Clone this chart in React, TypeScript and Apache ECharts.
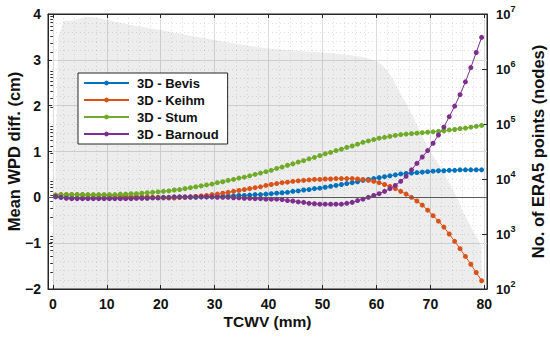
import React, { useEffect, useRef } from 'react';
import * as echarts from 'echarts';

// TCWV bin centres (mm)
const tcwvBins: number[] = Array.from({ length: 80 }, (_, i) => i + 0.5);

// Mean WPD differences (cm)
const bevis: number[] = [
  0.01, 0.00, 0.00, -0.01, -0.01, -0.01, -0.01, -0.01, -0.01, -0.01,
  -0.01, -0.01, -0.01, -0.01, -0.01, -0.01, -0.01, -0.01, -0.01, -0.01,
  -0.01, -0.01, -0.01, 0.00, 0.00, 0.00, 0.00, 0.01, 0.01, 0.01,
  0.02, 0.02, 0.03, 0.03, 0.04, 0.04, 0.05, 0.06, 0.06, 0.07,
  0.08, 0.09, 0.10, 0.11, 0.13, 0.14, 0.16, 0.17, 0.19, 0.20,
  0.22, 0.24, 0.26, 0.28, 0.30, 0.32, 0.34, 0.37, 0.39, 0.41,
  0.43, 0.45, 0.47, 0.49, 0.51, 0.52, 0.53, 0.54, 0.55, 0.56,
  0.57, 0.58, 0.58, 0.59, 0.59, 0.60, 0.60, 0.60, 0.60, 0.60,
];
const keihm: number[] = [
  0.05, 0.06, 0.06, 0.06, 0.06, 0.06, 0.05, 0.05, 0.05, 0.05,
  0.04, 0.04, 0.03, 0.03, 0.02, 0.02, 0.01, 0.01, 0.00, 0.00,
  -0.01, -0.01, -0.01, 0.00, 0.00, 0.01, 0.02, 0.03, 0.04, 0.06,
  0.07, 0.09, 0.11, 0.13, 0.15, 0.17, 0.19, 0.21, 0.23, 0.26,
  0.28, 0.30, 0.32, 0.33, 0.35, 0.36, 0.37, 0.38, 0.39, 0.39,
  0.40, 0.40, 0.41, 0.41, 0.41, 0.41, 0.40, 0.39, 0.37, 0.35,
  0.32, 0.28, 0.24, 0.19, 0.13, 0.07, 0.00, -0.08, -0.17, -0.28,
  -0.40, -0.52, -0.65, -0.80, -0.96, -1.12, -1.29, -1.46, -1.64, -1.82,
];
const stum: number[] = [
  0.05, 0.06, 0.06, 0.06, 0.06, 0.06, 0.06, 0.06, 0.06, 0.06,
  0.06, 0.06, 0.07, 0.07, 0.08, 0.08, 0.09, 0.10, 0.11, 0.12,
  0.13, 0.14, 0.16, 0.17, 0.19, 0.21, 0.23, 0.25, 0.27, 0.29,
  0.32, 0.34, 0.37, 0.39, 0.42, 0.44, 0.47, 0.50, 0.53, 0.56,
  0.59, 0.63, 0.66, 0.70, 0.73, 0.77, 0.80, 0.84, 0.87, 0.91,
  0.95, 0.98, 1.02, 1.05, 1.09, 1.12, 1.16, 1.20, 1.23, 1.26,
  1.29, 1.31, 1.33, 1.35, 1.37, 1.38, 1.39, 1.40, 1.41, 1.42,
  1.43, 1.44, 1.45, 1.47, 1.48, 1.50, 1.51, 1.53, 1.55, 1.57,
];
const barnoud: number[] = [
  0.02, 0.00, -0.02, -0.03, -0.03, -0.03, -0.03, -0.03, -0.03, -0.03,
  -0.03, -0.03, -0.03, -0.03, -0.03, -0.02, -0.02, -0.02, -0.01, -0.01,
  0.00, 0.00, 0.01, 0.01, 0.01, 0.01, 0.01, 0.01, 0.01, 0.01,
  0.00, 0.00, 0.00, -0.01, -0.01, -0.02, -0.02, -0.03, -0.03, -0.04,
  -0.04, -0.04, -0.05, -0.07, -0.08, -0.10, -0.11, -0.13, -0.14, -0.15,
  -0.15, -0.15, -0.15, -0.15, -0.13, -0.11, -0.07, -0.04, 0.00, 0.04,
  0.08, 0.13, 0.19, 0.26, 0.35, 0.46, 0.60, 0.74, 0.88, 1.02,
  1.18, 1.36, 1.53, 1.76, 1.99, 2.24, 2.52, 2.83, 3.16, 3.49,
];

// Number of ERA5 points (nodes) per TCWV
const era5Tcwv: number[] = [
  0, 1, 2, 3, 4, 5, 6, 7, 8, 10, 12, 15, 20, 25, 30, 35, 40, 45, 50, 55, 57, 58, 59,
  60, 61, 62, 63, 64, 65, 66, 67, 68, 69, 70, 71, 72, 73, 74, 75, 76, 77, 78, 79, 79.5, 79.6,
];
const era5Points: number[] = [
  100, 3.8e6, 7.6e6, 7.5e6, 7.8e6, 8.3e6, 8.8e6, 8.8e6, 8.6e6, 7.9e6, 7.1e6, 6.2e6, 5.1e6, 4.1e6, 3.35e6, 2.75e6, 2.37e6, 2.15e6, 2.0e6, 1.8e6, 1.68e6, 1.6e6, 1.5e6,
  1.38e6, 1.2e6, 9.4e5, 6.8e5, 4.3e5, 2.9e5, 1.96e5, 1.21e5, 7.8e4, 4.8e4, 3.2e4, 2.2e4, 1.6e4, 1.06e4, 6.8e3, 4.5e3, 2.6e3, 1.7e3, 1.1e3, 750, 585, 100,
];

const seriesNames = ['3D - Bevis', '3D - Keihm', '3D - Stum', '3D - Barnoud'];
const seriesColors = ['#0072BD', '#D95319', '#6FAA28', '#7E2F8E'];

const FONT = '"Liberation Sans", Arial, Helvetica, sans-serif';
const AXIS_COLOR = '#262626';
const TEXT_COLOR = '#111111';

export default function App() {
  const ref = useRef<HTMLDivElement>(null);

  useEffect(() => {
    if (!ref.current) return;
    const chart = echarts.init(ref.current, null, { renderer: 'svg' });

    const minorLogTicks: number[] = [];
    for (let d = 2; d < 7; d++) {
      for (let k = 2; k <= 9; k++) minorLogTicks.push(d + Math.log10(k));
    }

    const lineData = [bevis, keihm, stum, barnoud];
    const lineSeries: any[] = lineData.map((vals, si) => ({
      name: seriesNames[si],
      type: 'line',
      xAxisIndex: 0,
      yAxisIndex: 0,
      data: tcwvBins.map((x, i) => [x, vals[i]]),
      symbol: 'circle',
      symbolSize: 5,
      showSymbol: true,
      lineStyle: { width: 1, color: seriesColors[si] },
      itemStyle: { color: seriesColors[si] },
      emphasis: { disabled: true },
      z: 3,
      ...(si === 0
        ? {
            markLine: {
              silent: true,
              symbol: ['none', 'none'],
              label: { show: false },
              lineStyle: { color: '#5a5a5a', width: 1, type: 'solid' },
              data: [{ yAxis: 0 }],
            },
          }
        : {}),
    }));

    const option: any = {
      animation: false,
      backgroundColor: '#ffffff',
      textStyle: { fontFamily: FONT },
      grid: {
        left: 48,
        right: 63,
        top: 14,
        bottom: 48,
        containLabel: false,
        outerBoundsMode: 'none',
        show: true,
        borderColor: AXIS_COLOR,
        borderWidth: 1,
        backgroundColor: 'transparent',
      },
      legend: {
        data: seriesNames,
        orient: 'vertical',
        left: 78,
        top: 73,
        itemWidth: 45,
        itemHeight: 6,
        itemGap: 1,
        padding: [2, 9, 2, 5],
        borderColor: AXIS_COLOR,
        borderWidth: 1,
        backgroundColor: '#ffffff',
        textStyle: {
          fontFamily: FONT,
          fontWeight: 'bold',
          fontSize: 13,
          color: TEXT_COLOR,
          lineHeight: 16,
          padding: [0, 0, 0, 3],
        },
      },
      xAxis: [
        {
          type: 'value',
          position: 'bottom',
          min: -0.9,
          max: 80.5,
          splitNumber: 8,
          minInterval: 10,
          maxInterval: 10,
          name: 'TCWV (mm)',
          nameLocation: 'middle',
          nameGap: 24,
          nameMoveOverlap: false,
          nameTextStyle: { fontFamily: FONT, fontWeight: 'bold', fontSize: 15.5, color: TEXT_COLOR },
          axisLine: { show: true, onZero: false, lineStyle: { color: AXIS_COLOR, width: 1 } },
          axisTick: { show: true, inside: true, length: 4, lineStyle: { color: AXIS_COLOR } },
          axisLabel: {
            showMinLabel: false,
            showMaxLabel: false,
            margin: 8,
            fontFamily: FONT,
            fontWeight: 'bold',
            fontSize: 14,
            color: TEXT_COLOR,
            formatter: (v: number) => (Math.abs(v - Math.round(v / 10) * 10) < 1e-6 ? String(Math.round(v)) : ''),
          },
          splitLine: { show: true, lineStyle: { color: '#dcdcdc', width: 1 } },
          minorTick: { show: false, splitNumber: 5 },
          minorSplitLine: { show: true, lineStyle: { color: 'rgba(0,0,0,0.12)', width: 1, type: [1, 3] } },
        },
        {
          type: 'value',
          position: 'top',
          min: -0.9,
          max: 80.5,
          splitNumber: 8,
          minInterval: 10,
          maxInterval: 10,
          axisLine: { show: true, onZero: false, lineStyle: { color: AXIS_COLOR, width: 1 } },
          axisTick: { show: true, inside: true, length: 4, lineStyle: { color: AXIS_COLOR } },
          axisLabel: { show: false },
          splitLine: { show: false },
        },
      ],
      yAxis: [
        {
          type: 'value',
          position: 'left',
          min: -2,
          max: 4,
          interval: 1,
          name: 'Mean WPD diff. (cm)',
          nameLocation: 'middle',
          nameGap: 26,
          nameMoveOverlap: false,
          nameTextStyle: { fontFamily: FONT, fontWeight: 'bold', fontSize: 16.5, color: TEXT_COLOR },
          axisLine: { show: true, onZero: false, lineStyle: { color: AXIS_COLOR, width: 1 } },
          axisTick: { show: true, inside: true, length: 4, lineStyle: { color: AXIS_COLOR } },
          axisLabel: {
            margin: 7,
            fontFamily: FONT,
            fontWeight: 'bold',
            fontSize: 14,
            color: TEXT_COLOR,
            formatter: (v: number) => (v < 0 ? '\u2212' + Math.abs(v) : String(v)),
          },
          splitLine: { show: true, lineStyle: { color: '#dcdcdc', width: 1 } },
          minorTick: { show: false, splitNumber: 5 },
          minorSplitLine: { show: true, lineStyle: { color: 'rgba(0,0,0,0.12)', width: 1, type: [1, 3] } },
        },
        {
          type: 'log',
          logBase: 10,
          position: 'right',
          min: 100,
          max: 1e7,
          splitNumber: 5,
          name: 'No. of ERA5 points (nodes)',
          nameLocation: 'middle',
          nameGap: 42,
          nameMoveOverlap: false,
          nameRotate: 90,
          nameTextStyle: { fontFamily: FONT, fontWeight: 'bold', fontSize: 16.5, color: TEXT_COLOR },
          axisLine: { show: true, onZero: false, lineStyle: { color: AXIS_COLOR, width: 1 } },
          axisTick: { show: true, inside: true, length: 5, lineStyle: { color: AXIS_COLOR } },
          axisLabel: {
            margin: 9,
            formatter: (v: number) => '{b|10}{s|' + Math.round(Math.log10(v)) + '}',
            rich: {
              b: { fontFamily: FONT, fontWeight: 'bold', fontSize: 13, color: TEXT_COLOR },
              s: { fontFamily: FONT, fontWeight: 'bold', fontSize: 9, color: TEXT_COLOR, padding: [0, 0, 11, 0] },
            },
          },
          splitLine: { show: false },
        },
        {
          type: 'value',
          position: 'right',
          min: 2,
          max: 7,
          axisLine: { show: false },
          axisLabel: { show: false },
          splitLine: { show: false },
          axisTick: {
            show: true,
            inside: true,
            length: 2.5,
            customValues: minorLogTicks,
            lineStyle: { color: AXIS_COLOR },
          },
        },
      ],
      series: [
        {
          name: 'ERA5 points',
          type: 'line',
          xAxisIndex: 0,
          yAxisIndex: 1,
          data: era5Tcwv.map((x, i) => [x, era5Points[i]]),
          symbol: 'none',
          showSymbol: false,
          smooth: false,
          lineStyle: { width: 0, opacity: 0 },
          areaStyle: { color: 'rgba(0,0,0,0.1)', origin: 'start' },
          emphasis: { disabled: true },
          silent: true,
          z: 1,
        },
        ...lineSeries,
      ],
    };

    chart.setOption(option);
    return () => chart.dispose();
  }, []);

  return <div ref={ref} style={{ position: 'fixed', left: 0, top: 0, width: 550, height: 337 }} />;
}
